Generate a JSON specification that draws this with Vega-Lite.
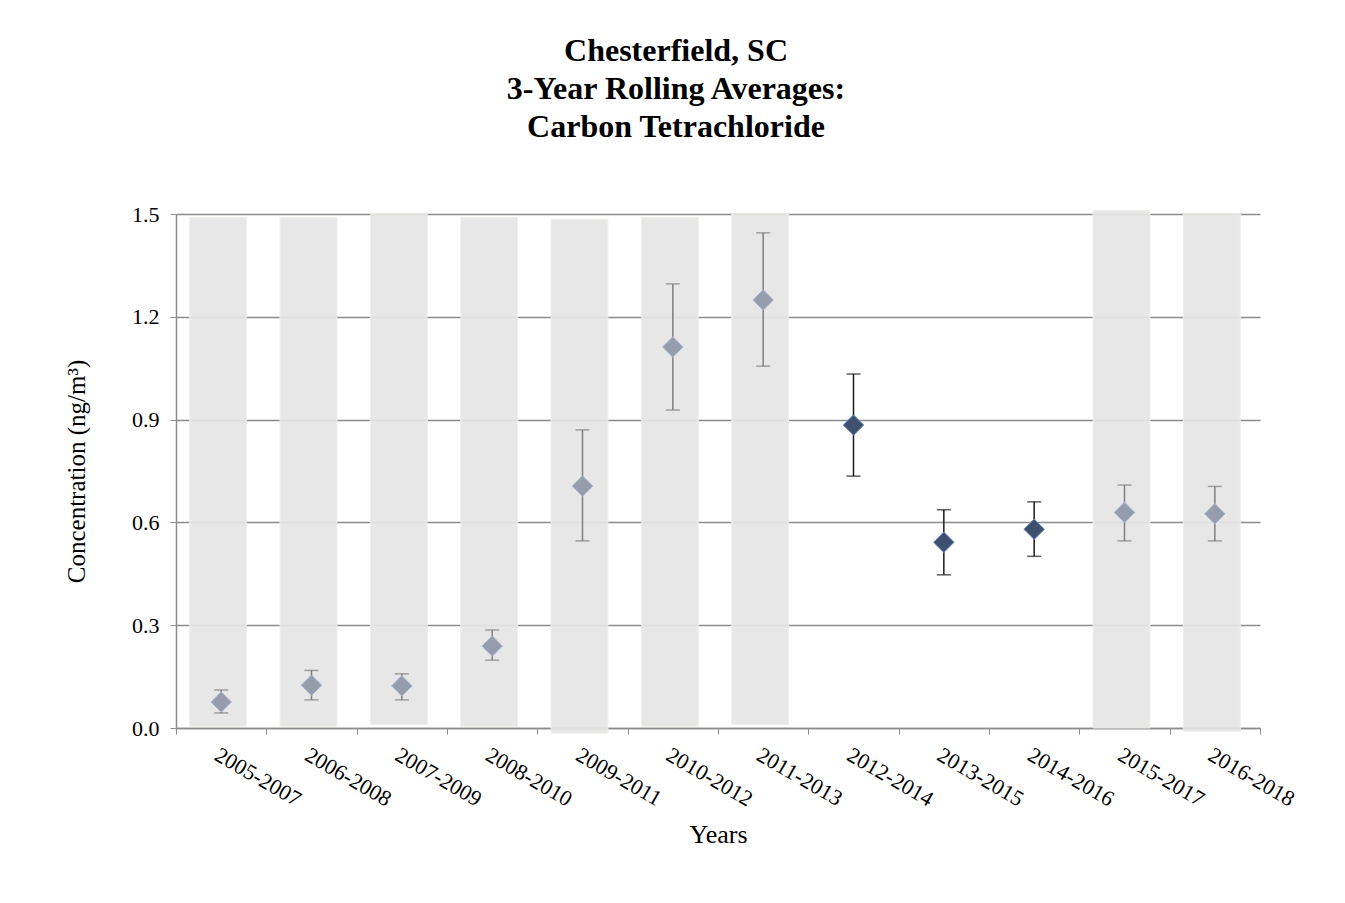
{
  "$schema": "https://vega.github.io/schema/vega-lite/v6.json",
  "width": 1084,
  "height": 514,
  "autosize": {"type": "none"},
  "padding": {"left": 176, "top": 214, "right": 85, "bottom": 175},
  "background": "#ffffff",
  "title": {
    "text": ["Chesterfield, SC", "3-Year Rolling Averages:", "Carbon  Tetrachloride"],
    "font": "Liberation Serif",
    "fontSize": 32,
    "fontWeight": "bold",
    "color": "#000000",
    "lineHeight": 38,
    "anchor": "middle",
    "frame": "group",
    "dx": -42,
    "offset": 59
  },
  "data": {
    "values": [
      {"period": "2005-2007", "mean": 0.076, "lo": 0.044, "hi": 0.111, "shaded": "yes", "bar_lo": 0.005, "bar_hi": 1.49},
      {"period": "2006-2008", "mean": 0.125, "lo": 0.082, "hi": 0.168, "shaded": "yes", "bar_lo": 0.005, "bar_hi": 1.49},
      {"period": "2007-2009", "mean": 0.123, "lo": 0.082, "hi": 0.158, "shaded": "yes", "bar_lo": 0.01, "bar_hi": 1.5},
      {"period": "2008-2010", "mean": 0.239, "lo": 0.198, "hi": 0.286, "shaded": "yes", "bar_lo": 0.005, "bar_hi": 1.49},
      {"period": "2009-2011", "mean": 0.706, "lo": 0.546, "hi": 0.87, "shaded": "yes", "bar_lo": -0.015, "bar_hi": 1.485},
      {"period": "2010-2012", "mean": 1.112, "lo": 0.928, "hi": 1.296, "shaded": "yes", "bar_lo": 0.005, "bar_hi": 1.49},
      {"period": "2011-2013", "mean": 1.249, "lo": 1.056, "hi": 1.445, "shaded": "yes", "bar_lo": 0.01, "bar_hi": 1.5},
      {"period": "2012-2014", "mean": 0.884, "lo": 0.735, "hi": 1.033, "shaded": "no", "bar_lo": null, "bar_hi": null},
      {"period": "2013-2015", "mean": 0.542, "lo": 0.447, "hi": 0.637, "shaded": "no", "bar_lo": null, "bar_hi": null},
      {"period": "2014-2016", "mean": 0.58, "lo": 0.501, "hi": 0.66, "shaded": "no", "bar_lo": null, "bar_hi": null},
      {"period": "2015-2017", "mean": 0.629, "lo": 0.546, "hi": 0.709, "shaded": "yes", "bar_lo": 0.0, "bar_hi": 1.51},
      {"period": "2016-2018", "mean": 0.625, "lo": 0.546, "hi": 0.705, "shaded": "yes", "bar_lo": -0.01, "bar_hi": 1.5}
    ]
  },
  "encoding": {
    "x": {
      "field": "period",
      "type": "nominal",
      "sort": ["2005-2007", "2006-2008", "2007-2009", "2008-2010", "2009-2011", "2010-2012", "2011-2013", "2012-2014", "2013-2015", "2014-2016", "2015-2017", "2016-2018"],
      "title": "Years",
      "scale": {"paddingInner": 0, "paddingOuter": 0},
      "axis": {
        "labelAngle": 30,
        "labelAlign": "left",
        "labelBaseline": "top",
        "labelPadding": 10,
        "labelFont": "Liberation Serif",
        "labelFontSize": 22,
        "labelColor": "#000000",
        "tickBand": "extent",
        "tickSize": 6,
        "tickColor": "#8c8c8c",
        "domainColor": "#8c8c8c",
        "domainWidth": 1.5,
        "titleFont": "Liberation Serif",
        "titleFontSize": 26,
        "titleFontWeight": "normal",
        "titleColor": "#000000",
        "titlePadding": 12,
        "grid": false
      }
    }
  },
  "layer": [
    {
      "transform": [{"filter": "datum.shaded == 'yes'"}],
      "mark": {"type": "bar", "color": "#e6e6e6", "stroke": "#efefe9", "strokeWidth": 1, "opacity": 0.92, "width": {"band": 0.63}, "xOffset": -3},
      "encoding": {
        "y": {"field": "bar_lo", "type": "quantitative"},
        "y2": {"field": "bar_hi"}
      }
    },
    {
      "mark": {"type": "rule", "strokeWidth": 1.5},
      "encoding": {
        "y": {"field": "lo", "type": "quantitative"},
        "y2": {"field": "hi"},
        "color": {"field": "shaded", "type": "nominal", "scale": {"domain": ["yes", "no"], "range": ["#7f7f7f", "#1a1a1a"]}, "legend": null}
      }
    },
    {
      "mark": {"type": "tick", "size": 14, "thickness": 1.5},
      "encoding": {
        "y": {"field": "lo", "type": "quantitative"},
        "color": {"field": "shaded", "type": "nominal", "scale": {"domain": ["yes", "no"], "range": ["#7f7f7f", "#1a1a1a"]}, "legend": null}
      }
    },
    {
      "mark": {"type": "tick", "size": 14, "thickness": 1.5},
      "encoding": {
        "y": {"field": "hi", "type": "quantitative"},
        "color": {"field": "shaded", "type": "nominal", "scale": {"domain": ["yes", "no"], "range": ["#7f7f7f", "#1a1a1a"]}, "legend": null}
      }
    },
    {
      "mark": {"type": "point", "shape": "diamond", "size": 420, "filled": true, "opacity": 1, "strokeWidth": 1},
      "encoding": {
        "y": {
          "field": "mean",
          "type": "quantitative",
          "title": "Concentration (ng/m³)",
          "scale": {"domain": [0, 1.5], "nice": false},
          "axis": {
            "values": [0, 0.3, 0.6, 0.9, 1.2, 1.5],
            "format": ".1f",
            "labelFont": "Liberation Serif",
            "labelFontSize": 22,
            "labelColor": "#000000",
            "labelPadding": 11,
            "tickSize": 6,
            "tickColor": "#8c8c8c",
            "domainColor": "#8c8c8c",
            "domainWidth": 1.5,
            "gridColor": "#8c8c8c",
            "gridWidth": 1.5,
            "titleFont": "Liberation Serif",
            "titleFontSize": 25,
            "titleFontWeight": "normal",
            "titleColor": "#000000",
            "titlePadding": 42
          }
        },
        "fill": {"field": "shaded", "type": "nominal", "scale": {"domain": ["yes", "no"], "range": ["#959dac", "#3e506e"]}, "legend": null},
        "stroke": {"field": "shaded", "type": "nominal", "scale": {"domain": ["yes", "no"], "range": ["#a9b7d2", "#6d8fcb"]}, "legend": null}
      }
    }
  ],
  "config": {
    "view": {"stroke": null},
    "axis": {"gridOpacity": 1}
  }
}
